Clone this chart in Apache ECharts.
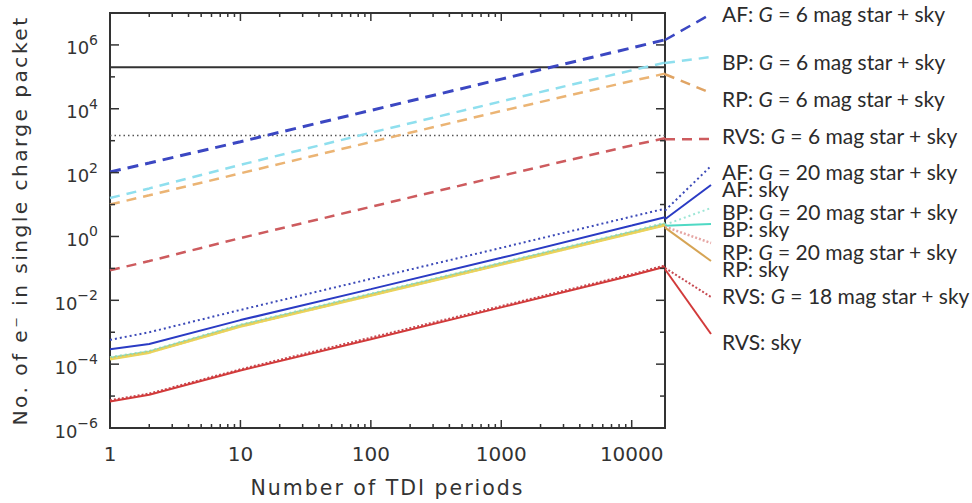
<!DOCTYPE html>
<html><head><meta charset="utf-8">
<script src="https://cdn.jsdelivr.net/npm/echarts@6/dist/echarts.min.js"></script>
<style>
html,body{margin:0;padding:0;background:#fff}#c{width:972px;height:503px}
#c text[style*="20.5px"]{letter-spacing:2px}
#c text[style*="20.25px"]{letter-spacing:2.4px}
</style>
</head><body><div id="c"></div>
<script>
// ---- data ----
const tdiPeriods = [1, 2, 10, 100, 1000, 10000, 18000];
const afStar6   = [105, 200, 930, 8900, 85000, 810000, 1450000];
const bpStar6   = [16, 32, 175, 1780, 17000, 160000, 280000];
const rpStar6   = [10, 19.5, 95, 910, 8500, 74000, 126000];
const rvsStar6  = [0.087, 0.17, 0.89, 8.5, 79, 710, 1200];
const afStar20  = [5.75e-4, 1.0e-3, 5.0e-3, 0.047, 0.44, 4.2, 7.4];
const afSky     = [2.95e-4, 4.3e-4, 2.4e-3, 0.0224, 0.214, 2.19, 3.98];
const bpStar20  = [1.66e-4, 2.6e-4, 1.74e-3, 0.0162, 0.151, 1.45, 2.69];
const bpSky     = [1.58e-4, 2.5e-4, 1.66e-3, 0.0155, 0.145, 1.38, 2.51];
const rpStar20  = [1.48e-4, 2.35e-4, 1.55e-3, 0.0145, 0.135, 1.29, 2.34];
const rpSky     = [1.41e-4, 2.25e-4, 1.48e-3, 0.0138, 0.129, 1.23, 2.19];
const rvsStar18 = [7.4e-6, 1.2e-5, 6.9e-5, 6.8e-4, 6.6e-3, 0.066, 0.123];
const rvsSky    = [6.8e-6, 1.1e-5, 6.3e-5, 6.0e-4, 6.0e-3, 0.060, 0.112];
const fullWellLevel = [2.0e5, 2.0e5];
const dottedLevel   = [1450, 1450];
const levelX        = [1, 18000];

const seriesLabels = [
  'AF: {i|G} = 6 mag star + sky', 'BP: {i|G} = 6 mag star + sky', 'RP: {i|G} = 6 mag star + sky',
  'RVS: {i|G} = 6 mag star + sky', 'AF: {i|G} = 20 mag star + sky', 'AF: sky',
  'BP: {i|G} = 20 mag star + sky', 'BP: sky', 'RP: {i|G} = 20 mag star + sky', 'RP: sky',
  'RVS: {i|G} = 18 mag star + sky', 'RVS: sky'
];
const seriesValues = [afStar6, bpStar6, rpStar6, rvsStar6, afStar20, afSky, bpStar20, bpSky, rpStar20, rpSky, rvsStar18, rvsSky];

const xMajorTicks = [1, 10, 100, 1000, 10000];
const xMinorTicks = [2,3,4,5,6,7,8,9,20,30,40,50,60,70,80,90,200,300,400,500,600,700,800,900,2000,3000,4000,5000,6000,7000,8000,9000];
const yMajorTicks = [1e-6, 1e-4, 1e-2, 1, 1e2, 1e4, 1e6];
const yMinorTicks = [1e-5, 1e-3, 1e-1, 1e1, 1e3, 1e5, 1e7];

// ---- styles / layout ----
const X_MIN = 1, X_MAX = 18000, Y_MIN = 1e-6, Y_MAX = 1e7;
const styles = [
  {c:'#3b47c2', t:[11,7], w:3,   lc:'#3b47c2'},
  {c:'#8fdfee', t:[10,7], w:2.5, lc:'#8fdfee'},
  {c:'#ebb474', t:[10,7], w:2.5, lc:'#e0a464'},
  {c:'#cd5b5e', t:[10,7], w:2.5, lc:'#cd5b5e'},
  {c:'#3c4ab8', t:[2,3],  w:2,   lc:'#3c4ab8'},
  {c:'#2a3bc4', t:'solid',w:2,   lc:'#2a3bc4'},
  {c:'#a6e3c8', t:[2,3],  w:2,   lc:'#9de6d6'},
  {c:'#8fd8b8', t:'solid',w:2,   lc:'#4fd9c4'},
  {c:'#e2c44a', t:[2,2],  w:2.5, lc:'#e6a6a4'},
  {c:'#ead35c', t:'solid',w:2,   lc:'#d6a454'},
  {c:'#c64a52', t:[2,2],  w:2,   lc:'#c64a52'},
  {c:'#d23a3a', t:'solid',w:2,   lc:'#d23a3a'}
];
const drawOrder = [0,1,2,3,6,7,8,9,4,5,10,11];
const connectorEndPx = [14, 57, 93, 139, 166, 185, 208, 224, 243, 261, 297, 334];
const labelCenterPx  = [13, 61, 98, 135, 171, 188, 211, 228, 251, 268, 295, 341];
const pairedWithNext = [4, 6, 8];   // these labels share one two-line text block with the next one
const LABEL_LINE_H = 17;

const AX = '#333';
const FONT = 'DejaVu Sans';
const LFONT = 'Lato';

const chart = echarts.init(document.getElementById('c'), null, {renderer:'svg'});

function isPow10(v){ const l = Math.log10(v); return Math.abs(l - Math.round(l)) < 1e-6; }

function tickSeries(values, axis, len){
  return {
    type:'custom', xAxisIndex:0, yAxisIndex:0, clip:false, silent:true, z:10, animation:false,
    data: values.map(v => axis === 'x' ? [v, Y_MIN] : [X_MIN, v]),
    renderItem: function(params, api){
      const v0 = api.value(0), v1 = api.value(1);
      let a, b, s1, s2;
      if (axis === 'x') {
        a = api.coord([v0, Y_MIN]); b = api.coord([v0, Y_MAX]);
        s1 = {x1:a[0], y1:a[1], x2:a[0], y2:a[1]-len};
        s2 = {x1:b[0], y1:b[1], x2:b[0], y2:b[1]+len};
      } else {
        a = api.coord([X_MIN, v1]); b = api.coord([X_MAX, v1]);
        s1 = {x1:a[0], y1:a[1], x2:a[0]+len, y2:a[1]};
        s2 = {x1:b[0], y1:b[1], x2:b[0]-len, y2:b[1]};
      }
      return {type:'group', children:[
        {type:'line', shape:s1, style:{stroke:AX, lineWidth:1.5}},
        {type:'line', shape:s2, style:{stroke:AX, lineWidth:1.5}}
      ]};
    }
  };
}

function legendText(k){
  if (pairedWithNext.indexOf(k - 1) >= 0) return null;
  if (pairedWithNext.indexOf(k) >= 0) return seriesLabels[k] + '\n' + seriesLabels[k + 1];
  return seriesLabels[k];
}
function legendCenter(k){
  if (pairedWithNext.indexOf(k) >= 0) return (labelCenterPx[k] + labelCenterPx[k + 1]) / 2;
  return labelCenterPx[k];
}

function buildOption(anchors){
  const series = [];
  series.push({type:'line', xAxisIndex:0, yAxisIndex:0, data: levelX.map((x,i)=>[x, fullWellLevel[i]]), symbol:'none', silent:true, animation:false, lineStyle:{color:'#333', width:2}});
  series.push({type:'line', xAxisIndex:0, yAxisIndex:0, data: levelX.map((x,i)=>[x, dottedLevel[i]]), symbol:'none', silent:true, animation:false, lineStyle:{color:'#555', width:1.5, type:[1.5,3]}});
  drawOrder.forEach(k => {
    const s = styles[k];
    series.push({type:'line', xAxisIndex:0, yAxisIndex:0, name: seriesLabels[k],
      data: tdiPeriods.map((n,i)=>[n, seriesValues[k][i]]), symbol:'none', silent:true, animation:false,
      lineStyle:{color:s.c, width:s.w, type:s.t}});
  });
  if (anchors) {
    seriesLabels.forEach((lab, k) => {
      const s = styles[k];
      const vals = seriesValues[k];
      const txt = legendText(k);
      const ser = {type:'line', xAxisIndex:1, yAxisIndex:1, clip:false,
        data:[[0, vals[vals.length-1]], [1, anchors[k]]], symbol:'none', silent:true, animation:false,
        lineStyle:{color:s.lc, width: Math.min(s.w, 2.5), type:s.t}};
      if (txt) {
        ser.endLabel = {show:true, distance:5, offset:[6, legendCenter(k) - connectorEndPx[k]],
          formatter: function(){ return txt; }, color:'#2b2b2b', fontFamily:LFONT, fontSize:21, lineHeight:LABEL_LINE_H,
          rich:{i:{fontStyle:'italic', fontFamily:LFONT, fontSize:21, lineHeight:LABEL_LINE_H, color:'#2b2b2b'}}};
      }
      series.push(ser);
    });
  }
  series.push(tickSeries(xMajorTicks, 'x', 8));
  series.push(tickSeries(xMinorTicks, 'x', 4));
  series.push(tickSeries(yMajorTicks, 'y', 9));
  series.push(tickSeries(yMinorTicks, 'y', 5));

  return {
    backgroundColor:'#fff',
    animation:false,
    grid:[
      {left:110, right:307, top:13, bottom:71, show:true, borderColor:AX, borderWidth:2, backgroundColor:'transparent'},
      {left:665, width:46, top:13, bottom:71, show:false}
    ],
    xAxis:[
      {type:'log', gridIndex:0, min:X_MIN, max:X_MAX, logBase:10,
       axisLine:{show:false}, axisTick:{show:false}, splitLine:{show:false}, minorTick:{show:false},
       axisLabel:{margin:16, color:AX, fontFamily:FONT, fontSize:20, showMaxLabel:false,
         formatter: v => isPow10(v) ? String(Math.round(v)) : ''},
       name:'Number of TDI periods', nameLocation:'middle', nameGap:49,
       nameTextStyle:{color:AX, fontFamily:FONT, fontSize:20.5}},
      {type:'value', gridIndex:1, min:0, max:1, show:false}
    ],
    yAxis:[
      {type:'log', gridIndex:0, min:Y_MIN, max:Y_MAX, logBase:10, interval:2,
       axisLine:{show:false}, axisTick:{show:false}, splitLine:{show:false}, minorTick:{show:false},
       axisLabel:{margin:12, color:AX,
         formatter: function(v){
           const e = Math.round(Math.log10(v));
           if (!isPow10(v) || e % 2 !== 0) return '';
           return '{b|10}{s|' + (e < 0 ? '\u2212' + (-e) : e) + '}';
         },
         rich:{
           b:{fontFamily:FONT, fontSize:18, color:AX, verticalAlign:'bottom'},
           s:{fontFamily:FONT, fontSize:14, color:AX, verticalAlign:'top', padding:[0,0,10,0]}
         }},
       name:'No. of e\u207B in single charge packet', nameLocation:'middle', nameGap:80,
       nameTextStyle:{color:AX, fontFamily:FONT, fontSize:20.25}},
      {type:'log', gridIndex:1, min:Y_MIN, max:Y_MAX, logBase:10, show:false}
    ],
    series: series
  };
}

chart.setOption(buildOption(null));
const anchors = connectorEndPx.map(py => chart.convertFromPixel({yAxisIndex:1}, py));
chart.setOption(buildOption(anchors), true);
</script>
</body></html>
